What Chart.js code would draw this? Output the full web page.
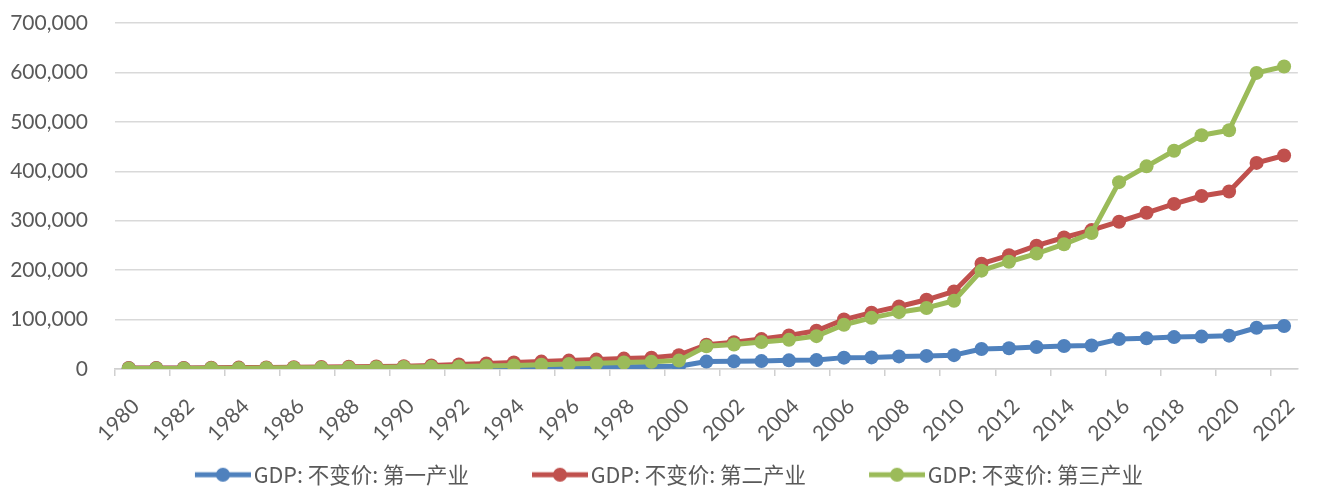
<!DOCTYPE html>
<html>
<head>
<meta charset="utf-8">
<script src="https://cdn.jsdelivr.net/npm/chart.js@4/dist/chart.umd.min.js"></script>
<style>
  html, body { margin: 0; padding: 0; background: #ffffff; }
  #chart { display: block; }
</style>
</head>
<body>
<canvas id="chart" width="1320" height="488"></canvas>
<script>
// Years on the category axis
const years = [
  1980, 1981, 1982, 1983, 1984, 1985, 1986, 1987, 1988, 1989,
  1990, 1991, 1992, 1993, 1994, 1995, 1996, 1997, 1998, 1999,
  2000, 2001, 2002, 2003, 2004, 2005, 2006, 2007, 2008, 2009,
  2010, 2011, 2012, 2013, 2014, 2015, 2016, 2017, 2018, 2019,
  2020, 2021, 2022
];

// GDP at constant prices, by sector
const primaryIndustry = [
  1400, 1450, 1600, 1700, 1900, 1950, 2000, 2100, 2200, 2300,
  2500, 2700, 2900, 3200, 3500, 3800, 4100, 4400, 4700, 5000,
  5500, 15000, 15500, 16000, 17500, 18000, 23000, 23500, 25500, 26500,
  28000, 40500, 42000, 44500, 46500, 47500, 60500, 62000, 64500, 65500,
  67500, 83500, 87000
];
const secondaryIndustry = [
  2000, 2100, 2200, 2400, 2800, 3200, 3500, 3900, 4500, 5000,
  5700, 7000, 9000, 11000, 13000, 15000, 17000, 19000, 21000, 23000,
  28000, 49000, 54000, 60500, 68000, 77500, 100000, 114000, 126500, 140000,
  157000, 213000, 230000, 249500, 266000, 281000, 298000, 316000, 334000, 350000,
  359000, 417000, 432000
];
const tertiaryIndustry = [
  1000, 1100, 1200, 1400, 1700, 2000, 2300, 2700, 3200, 3500,
  3800, 4300, 5000, 6000, 7000, 8500, 10000, 11500, 13000, 14500,
  17000, 46000, 49500, 54500, 59000, 66500, 89500, 103500, 115000, 123500,
  138000, 199000, 217000, 233500, 252500, 275000, 378000, 410000, 441500, 473000,
  483000, 599000, 612000
];

const seriesNames = ['GDP: 不变价: 第一产业', 'GDP: 不变价: 第二产业', 'GDP: 不变价: 第三产业'];
const seriesColors = ['#4f81bd', '#c0504d', '#9bbb59'];
const yTicks = { min: 0, max: 700000, step: 100000 };

const AXIS_FONT = { family: 'Lato, "Open Sans", sans-serif', size: 21 };
const LEGEND_FONT = { family: '"Noto Sans CJK SC", sans-serif', size: 21.5 };
const TEXT_COLOR = '#595959';

// Legend key: a short line with a round marker, drawn at the right of its box
const KEY_BOX = 71;
function legendKey(color) {
  const c = document.createElement('canvas');
  c.width = KEY_BOX + 16;
  c.height = 16;
  const g = c.getContext('2d');
  const x1 = c.width;
  const x0 = x1 - 56;
  g.strokeStyle = color;
  g.lineWidth = 5;
  g.beginPath();
  g.moveTo(x0, 8);
  g.lineTo(x1, 8);
  g.stroke();
  g.fillStyle = color;
  g.beginPath();
  g.arc((x0 + x1) / 2, 8, 7, 0, Math.PI * 2);
  g.fill();
  return c;
}
const legendKeys = seriesColors.map(legendKey);

function lineSeries(i, values, order) {
  return {
    label: seriesNames[i],
    data: values,
    borderColor: seriesColors[i],
    backgroundColor: seriesColors[i],
    borderWidth: 5,
    pointRadius: 7,
    pointBorderWidth: 0,
    pointBackgroundColor: seriesColors[i],
    pointHoverRadius: 7,
    borderJoinStyle: 'round',
    borderCapStyle: 'round',
    tension: 0,
    order: order
  };
}

new Chart(document.getElementById('chart'), {
  type: 'line',
  data: {
    labels: years.map(String),
    datasets: [
      lineSeries(0, primaryIndustry, 2),
      lineSeries(1, secondaryIndustry, 1),
      lineSeries(2, tertiaryIndustry, 0)
    ]
  },
  options: {
    responsive: false,
    animation: false,
    devicePixelRatio: 1,
    layout: { padding: { left: 0, right: 5, top: 23, bottom: 0 } },
    plugins: {
      tooltip: { enabled: false },
      legend: {
        position: 'bottom',
        maxHeight: 64,
        labels: {
          usePointStyle: true,
          pointStyleWidth: KEY_BOX,
          padding: 40,
          color: TEXT_COLOR,
          font: LEGEND_FONT,
          generateLabels(chart) {
            return chart.data.datasets.map((ds, i) => ({
              text: ds.label,
              fillStyle: ds.borderColor,
              strokeStyle: ds.borderColor,
              lineWidth: 0,
              pointStyle: legendKeys[i],
              fontColor: TEXT_COLOR,
              hidden: false,
              datasetIndex: i
            }));
          }
        }
      }
    },
    scales: {
      x: {
        type: 'category',
        offset: true,
        afterFit(scale) {
          scale.height = 55;
          // the rotated year labels reach below the axis box into the legend band
          scale._computeLabelArea = () => undefined;
        },
        grid: {
          display: true,
          drawOnChartArea: false,
          drawTicks: true,
          tickLength: 7,
          lineWidth: 1.5,
          offset: true,
          color: (ctx) => (ctx.index % 2 === 0 ? '#d0d0d0' : 'rgba(0,0,0,0)')
        },
        border: { display: true, color: '#d0d0d0', width: 1.5 },
        ticks: {
          autoSkip: false,
          minRotation: 45,
          maxRotation: 45,
          padding: 18,
          labelOffset: 7,
          color: TEXT_COLOR,
          font: AXIS_FONT,
          callback(value, index) {
            return index % 2 === 0 ? this.getLabelForValue(value) : '';
          }
        }
      },
      y: {
        min: yTicks.min,
        max: yTicks.max,
        afterFit(scale) {
          scale.width = 115;
          scale.paddingTop = 0;
          scale.paddingBottom = 0;
        },
        grid: {
          color: '#d9d9d9',
          lineWidth: 1.5,
          drawTicks: false
        },
        border: { display: false },
        ticks: {
          stepSize: yTicks.step,
          padding: 27,
          color: TEXT_COLOR,
          font: AXIS_FONT,
          callback: (v) => v.toLocaleString('en-US')
        }
      }
    }
  }
});
</script>
</body>
</html>
